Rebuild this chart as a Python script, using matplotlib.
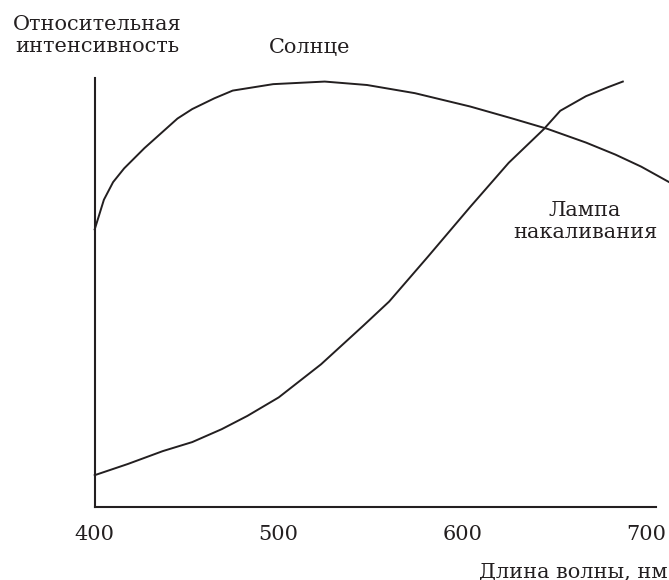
import matplotlib.pyplot as plt

plt.rcParams['font.family'] = ['DejaVu Serif']

# Sun spectrum (relative intensity)
sun_nm = [400, 405, 410, 416, 427, 445, 453, 465, 475, 497, 525, 548, 574, 604, 627, 646, 667, 683, 697, 713]
sun_val = [0.647, 0.716, 0.757, 0.789, 0.836, 0.905, 0.927, 0.952, 0.970, 0.985, 0.991, 0.983, 0.964,
           0.933, 0.905, 0.881, 0.849, 0.821, 0.793, 0.755]

# Incandescent lamp spectrum
lamp_nm = [400, 418, 437, 453, 469, 483, 500, 523, 546, 560, 581, 604, 625, 644, 653, 667, 679, 687]
lamp_val = [0.075, 0.101, 0.131, 0.152, 0.182, 0.213, 0.256, 0.333, 0.423, 0.479, 0.583,
            0.699, 0.802, 0.880, 0.923, 0.957, 0.978, 0.991]

xticks = [400, 500, 600, 700]
ink = '#231f20'

W, H = 669, 580
fig = plt.figure(figsize=(W / 100, H / 100), dpi=100)
ax = fig.add_axes([94.7 / W, (H - 507.4) / H, (W - 94.7) / W, (507.4 - 77.7) / H])

ax.plot(sun_nm, sun_val, color=ink, lw=1.4, clip_on=False)
ax.plot(lamp_nm, lamp_val, color=ink, lw=1.4, clip_on=False)

ax.set_xlim(400, 712.1)
ax.set_ylim(0, 1)
for s in ['top', 'right']:
    ax.spines[s].set_visible(False)
ax.spines['bottom'].set_bounds(400, 705)
for s in ['left', 'bottom']:
    ax.spines[s].set_color(ink)
    ax.spines[s].set_linewidth(1.5)

ax.set_xticks(xticks)
ax.set_xticklabels([str(t) for t in xticks])
ax.set_yticks([])
ax.tick_params(axis='x', length=0, pad=13, labelsize=15, colors=ink)

fs = 15
fig.text(97 / W, 1 - 35.5 / H, 'Относительная\nинтенсивность', ha='center', va='center',
         fontsize=fs, color=ink, linespacing=1.25)
fig.text(310 / W, 1 - 47 / H, 'Солнце', ha='center', va='center', fontsize=fs, color=ink)
fig.text(585 / W, 1 - 221.5 / H, 'Лампа\nнакаливания', ha='center', va='center',
         fontsize=fs, color=ink, linespacing=1.25)
fig.text(668 / W, 1 - 572 / H, 'Длина волны, нм', ha='right', va='center', fontsize=fs, color=ink)

fig.savefig('out.png', dpi=100)
